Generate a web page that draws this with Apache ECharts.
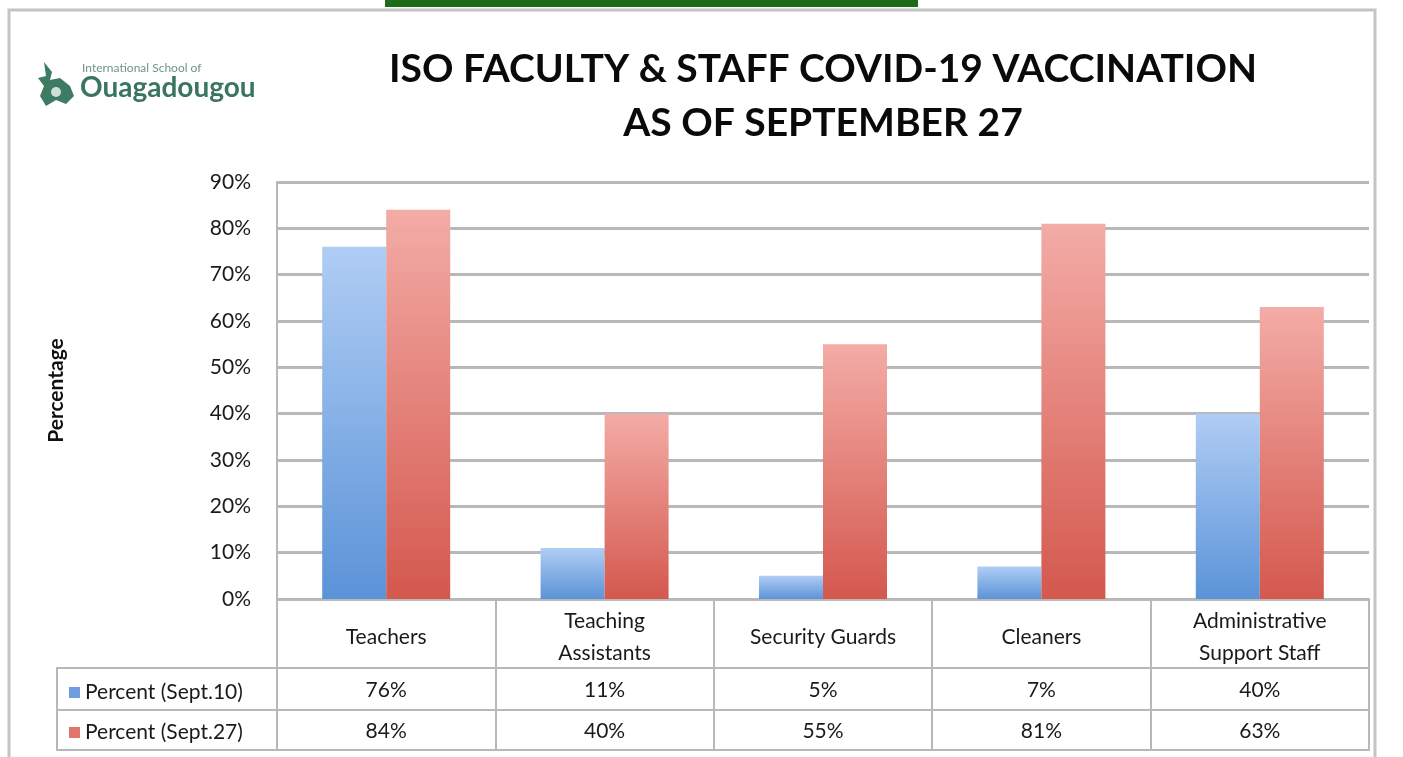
<!DOCTYPE html>
<html>
<head>
<meta charset="utf-8">
<script src="https://cdn.jsdelivr.net/npm/echarts@6/dist/echarts.min.js"></script>
<style>
  html, body { margin: 0; padding: 0; background: #fff; }
  #main { width: 1403px; height: 757px; }
</style>
</head>
<body>
<div id="main"></div>
<script>
// data
var categories = ['Teachers', 'Teaching\nAssistants', 'Security Guards', 'Cleaners', 'Administrative\nSupport Staff'];
var seriesNames = ['Percent (Sept.10)', 'Percent (Sept.27)'];
var sept10 = [76, 11, 5, 7, 40];
var sept27 = [84, 40, 55, 81, 63];
var yTicks = [0, 10, 20, 30, 40, 50, 60, 70, 80, 90];

var chart = echarts.init(document.getElementById('main'));

var FONT = 'Lato, "Open Sans", sans-serif';
var GRID_LINE = '#b8b8b8';
var TXT = '#1a1a1a';

function grad(top, bottom) {
    return new echarts.graphic.LinearGradient(0, 0, 0, 1, [
        { offset: 0, color: top },
        { offset: 1, color: bottom }
    ]);
}

// table rows under the plot are extra category axes pushed down with offset
function tableAxis(offset, values, margin) {
    return {
        type: 'category',
        data: categories,
        position: 'bottom',
        offset: offset,
        axisLine: { show: true, lineStyle: { color: GRID_LINE, width: 2 } },
        axisTick: { show: false },
        axisLabel: {
            show: values != null,
            interval: 0,
            margin: margin,
            verticalAlign: 'middle',
            color: TXT,
            fontFamily: FONT,
            fontSize: 21,
            formatter: function (v, i) { return values ? values[i] + '%' : ''; }
        }
    };
}

var option = {
    backgroundColor: '#fff',
    animation: false,
    title: {
        text: 'ISO FACULTY & STAFF COVID-19 VACCINATION\nAS OF SEPTEMBER 27',
        left: 818,
        top: 37,
        textAlign: 'center',
        textStyle: {
            fontFamily: FONT,
            fontWeight: 'bold',
            fontSize: 39,
            lineHeight: 54,
            color: '#0a0a0a'
        }
    },
    legend: {
        orient: 'vertical',
        left: 64,
        top: 677,
        itemGap: 19,
        itemWidth: 11,
        itemHeight: 11,
        icon: 'rect',
        textStyle: { fontFamily: FONT, fontSize: 21, color: TXT },
        data: [
            { name: seriesNames[0], itemStyle: { color: '#6f9ee0' } },
            { name: seriesNames[1], itemStyle: { color: '#e1756d' } }
        ]
    },
    grid: { left: 277, right: 34, top: 182, bottom: 158 },
    xAxis: [
        {
            type: 'category',
            data: categories,
            position: 'bottom',
            axisLine: { show: true, lineStyle: { color: GRID_LINE, width: 2 } },
            axisTick: { show: true, length: 151, interval: 0, lineStyle: { color: GRID_LINE, width: 2 } },
            axisLabel: {
                interval: 0,
                margin: 38,
                verticalAlign: 'middle',
                color: TXT,
                fontFamily: FONT,
                fontSize: 21,
                lineHeight: 32
            }
        },
        tableAxis(69, sept10, 22),
        tableAxis(111, sept27, 21),
        tableAxis(151, null, 0)
    ],
    yAxis: {
        type: 'value',
        min: 0,
        max: 90,
        interval: 10,
        name: 'Percentage',
        nameLocation: 'middle',
        nameRotate: 90,
        nameGap: 210,
        nameTextStyle: { fontFamily: FONT, fontWeight: 'bold', fontSize: 21, color: '#111' },
        axisLine: { show: true, lineStyle: { color: GRID_LINE, width: 2 } },
        axisTick: { show: false },
        axisLabel: {
            margin: 26,
            color: TXT,
            fontFamily: FONT,
            fontSize: 21,
            formatter: '{value}%'
        },
        splitLine: { lineStyle: { color: GRID_LINE, width: 3 } }
    },
    series: [
        {
            name: seriesNames[0],
            type: 'bar',
            barWidth: 64,
            barGap: '0%',
            itemStyle: { color: grad('#b0cdf4', '#5b93d8') },
            data: sept10
        },
        {
            name: seriesNames[1],
            type: 'bar',
            barWidth: 64,
            barGap: '0%',
            itemStyle: { color: grad('#f3aca6', '#d4584e') },
            data: sept27
        }
    ],
    graphic: [
        // green strip at the top
        { type: 'rect', shape: { x: 385, y: 0, width: 533, height: 7 }, style: { fill: '#1d6b17' } },
        // outer frame
        { type: 'rect', shape: { x: 9, y: 10, width: 1366, height: 770 },
          style: { fill: 'none', stroke: '#c4c4c4', lineWidth: 3 } },
        // legend column of the table
        { type: 'rect', shape: { x: 57, y: 668, width: 220, height: 82 },
          style: { fill: 'none', stroke: GRID_LINE, lineWidth: 2 } },
        { type: 'line', shape: { x1: 57, y1: 710, x2: 277, y2: 710 },
          style: { stroke: GRID_LINE, lineWidth: 2 } },
        // logo
        { type: 'polygon', shape: { points: [[44, 62], [52, 72], [50, 80], [60, 78], [70, 86], [74, 96], [66, 104], [56, 100], [46, 106], [40, 96], [44, 86], [38, 78], [46, 76]] },
          style: { fill: '#3e7b63' } },
        { type: 'circle', shape: { cx: 56, cy: 92, r: 5 }, style: { fill: '#cfe0d6' } },
        { type: 'text', left: 82, top: 62, style: { text: 'International School of', font: '12px ' + FONT, fill: '#6f9584' } },
        { type: 'text', left: 80, top: 74, style: { text: 'Ouagadougou', font: 'bold 28px ' + FONT, fill: '#3a7560' } }
    ]
};

chart.setOption(option);
</script>
</body>
</html>
